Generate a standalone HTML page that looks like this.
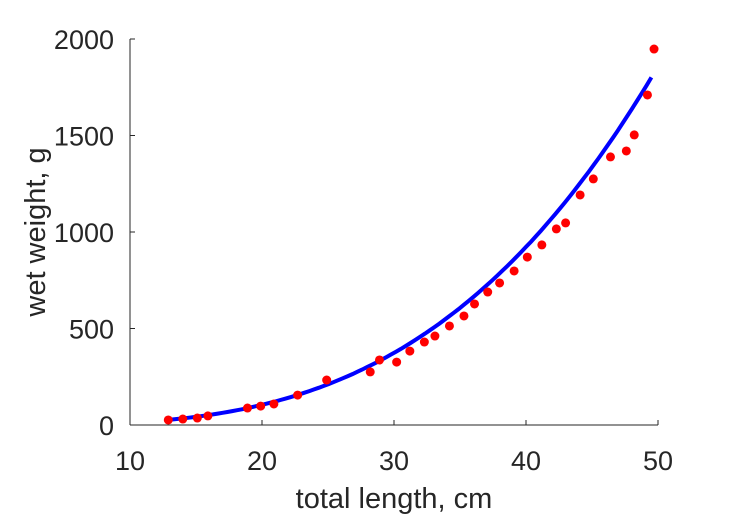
<!DOCTYPE html>
<html><head><meta charset="utf-8"><style>
html,body{margin:0;padding:0;background:#fff;}
svg{display:block;font-family:"Liberation Sans",sans-serif;}
</style></head><body>
<svg id="chart" width="729" height="521" viewBox="0 0 729 521" xmlns="http://www.w3.org/2000/svg"></svg>
<script>
const lengths=[12.9,14.0,15.1,15.9,18.9,19.9,20.9,22.7,24.9,28.2,28.9,30.2,31.2,32.3,33.1,34.2,35.3,36.1,37.1,38.0,39.1,40.1,41.2,42.3,43.0,44.1,45.1,46.4,47.6,48.2,49.2,49.7];
const weights=[26,31,36,47,88,98,109,155,233,275,337,326,383,430,461,513,565,627,689,736,798,870,933,1016,1047,1192,1275,1389,1420,1503,1710,1948];
const fitA=[0.0086];
const fitB=[3.14];
const fitRange=[13,49.5];
const xTicks=[10,20,30,40,50];
const yTicks=[0,500,1000,1500,2000];
const NS="http://www.w3.org/2000/svg";
const svg=document.getElementById('chart');
const L=130,R=658,T=39,B=425;
const xs=v=>L+(v-10)/40*(R-L);
const ys=v=>B-v/2000*(B-T);
function mk(t,a,p){const e=document.createElementNS(NS,t);for(const k in a)e.setAttribute(k,a[k]);(p||svg).appendChild(e);return e;}
const ax=mk('g',{});


const xl=mk('line',{x1:L,y1:B,x2:R,y2:B,stroke:'#262626','stroke-width':1},ax);


const yl=mk('line',{x1:L,y1:B,x2:L,y2:T,stroke:'#262626','stroke-width':1},ax);


xTicks.forEach(v=>{
  mk('line',{x1:xs(v),y1:B,x2:xs(v),y2:B-5,stroke:'#262626'},ax);
  const t=mk('text',{x:xs(v),y:B+45,'text-anchor':'middle','font-size':27,fill:'#262626'},ax);
  t.textContent=v;
  
  
});
yTicks.forEach(v=>{
  mk('line',{x1:L,y1:ys(v),x2:L+5,y2:ys(v),stroke:'#262626'},ax);
  const t=mk('text',{x:L-16,y:ys(v)+10,'text-anchor':'end','font-size':27,fill:'#262626'},ax);
  t.textContent=v;
  
  
});
const xt=mk('text',{x:(L+R)/2,y:508,'text-anchor':'middle','font-size':29,fill:'#262626'});
xt.textContent='total length, cm';


const yt=mk('text',{x:0,y:0,transform:`translate(45,${(T+B)/2}) rotate(-90)`,'text-anchor':'middle','font-size':29,fill:'#262626'});
yt.textContent='wet weight, g';


let d='';
for(let i=0;i<=100;i++){const x=fitRange[0]+(fitRange[1]-fitRange[0])*i/100;const y=fitA[0]*Math.pow(x,fitB[0]);d+=(i?'L':'M')+xs(x).toFixed(1)+','+ys(y).toFixed(1);}
const fl=mk('path',{d:d,fill:'none',stroke:'#0000ff','stroke-width':4});


lengths.forEach((x,i)=>{
  const c=mk('circle',{cx:xs(x),cy:ys(weights[i]),r:4.5,fill:'#ff0000'});
  
  
});
</script>
</body></html>
